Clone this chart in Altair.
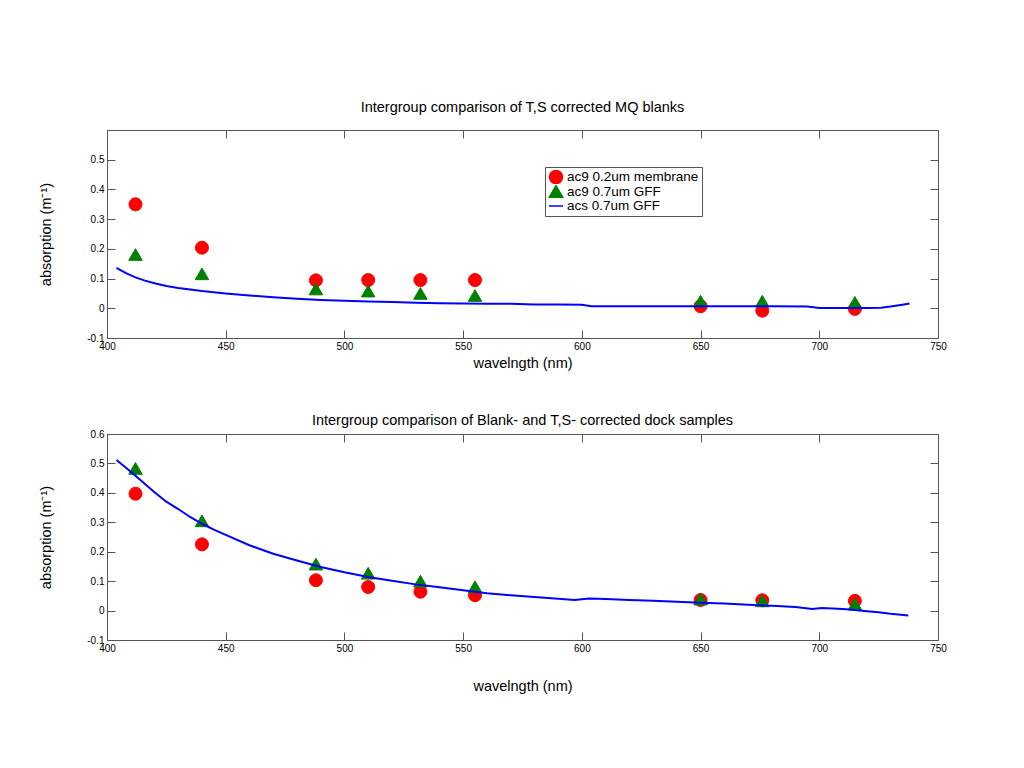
import altair as alt
import pandas as pd

FONT = "Liberation Sans"
AX = "#555555"

SERIES = ["ac9 0.2um membrane", "ac9 0.7um GFF", "acs 0.7um GFF"]

ac9_wl = [412, 440, 488, 510, 532, 555, 650, 676, 715]

# Top panel: T,S corrected MQ blanks
blank_membrane = [0.350, 0.204, 0.094, 0.095, 0.095, 0.095, 0.007, -0.008, -0.002]
blank_gff = [0.181, 0.116, 0.065, 0.058, 0.050, 0.043, 0.024, 0.024, 0.020]
acs_wl_top = [404, 408, 412, 416, 420, 425, 430, 435, 440, 445, 450, 460, 470, 480,
              490, 500, 510, 520, 530, 540, 550, 560, 570, 580, 590, 600, 604, 620,
              640, 660, 680, 695, 700, 710, 720, 726, 730, 735, 738]
acs_blank = [0.136, 0.118, 0.104, 0.093, 0.084, 0.075, 0.068, 0.063, 0.058, 0.054, 0.050,
             0.043, 0.037, 0.032, 0.028, 0.025, 0.023, 0.021, 0.019, 0.017, 0.016, 0.015,
             0.015, 0.013, 0.013, 0.012, 0.007, 0.007, 0.007, 0.007, 0.007, 0.006, 0.001,
             0.001, 0.001, 0.002, 0.006, 0.012, 0.016]

# Bottom panel: Blank- and T,S- corrected dock samples
dock_membrane = [0.397, 0.225, 0.103, 0.080, 0.064, 0.052, 0.036, 0.035, 0.033]
dock_gff = [0.483, 0.305, 0.158, 0.127, 0.100, 0.081, 0.039, 0.033, 0.022]
acs_wl_bot = [404, 408, 412, 416, 420, 425, 430, 435, 440, 445, 450, 460, 470, 480, 490,
              500, 510, 520, 530, 540, 550, 560, 570, 580, 590, 597, 603, 610, 620, 630,
              640, 650, 660, 670, 680, 690, 697, 701, 710, 715, 720, 725, 730, 737.5]
acs_dock = [0.512, 0.485, 0.458, 0.430, 0.402, 0.370, 0.345, 0.318, 0.295, 0.275, 0.257,
            0.222, 0.193, 0.170, 0.148, 0.130, 0.114, 0.101, 0.089, 0.079, 0.069, 0.059,
            0.052, 0.046, 0.040, 0.036, 0.041, 0.039, 0.036, 0.033, 0.030, 0.027, 0.024,
            0.020, 0.016, 0.012, 0.005, 0.009, 0.005, 0.002, -0.002, -0.006, -0.011, -0.017]

x_ticks = [400, 450, 500, 550, 600, 650, 700, 750]
y_ticks_top = [-0.1, 0, 0.1, 0.2, 0.3, 0.4, 0.5]
y_ticks_bot = [-0.1, 0, 0.1, 0.2, 0.3, 0.4, 0.5, 0.6]

W = 831


def make_panel(title, title_offset, mem, gff, acs_wl, acs_vals, yticks, height,
               xtitle_pad, ytitle_pad, show_legend):
    mem_df = pd.DataFrame({"wl": ac9_wl, "a": mem, "series": SERIES[0]})
    gff_df = pd.DataFrame({"wl": ac9_wl, "a": gff, "series": SERIES[1]})
    line_df = pd.DataFrame({"wl": acs_wl, "a": acs_vals})

    xs = alt.Scale(domain=[400, 750], nice=False, zero=False)
    ys = alt.Scale(domain=[-0.1, 0.6], nice=False, zero=False)

    lab = dict(grid=False, domain=False, ticks=False, labelFont=FONT, labelFontSize=10,
               labelColor="black", labelFlush=False, labelOverlap=False, labelBound=False,
               labelPadding=3, labelExpr="toString(datum.value)",
               titleFont=FONT, titleFontSize=14.5, titleFontWeight="normal", titleColor="black")
    tk = dict(grid=False, domain=False, ticks=True, labels=False, title=None,
              tickColor=AX, tickSize=8, tickWidth=1)

    x_main = alt.Axis(orient="bottom", values=x_ticks, title="wavelngth (nm)",
                      titlePadding=xtitle_pad, **lab)
    y_main = alt.Axis(orient="left", values=yticks, title="absorption (m\u207b\u00b9)",
                      titlePadding=ytitle_pad, **lab)
    x_in_bottom = alt.Axis(orient="top", offset=-height, values=x_ticks, **tk)
    x_in_top = alt.Axis(orient="bottom", offset=-height, values=x_ticks, **tk)
    y_in_left = alt.Axis(orient="right", offset=-W, values=yticks, **tk)
    y_in_right = alt.Axis(orient="left", offset=-W, values=yticks, **tk)

    if show_legend:
        leg = alt.Legend(title=None, orient="none", legendX=438, legendY=37,
                         fillColor="white", strokeColor=AX, padding=3,
                         labelFont=FONT, labelFontSize=13.5, labelColor="black",
                         labelOffset=3, clipHeight=14, rowPadding=0.5,
                         symbolStrokeWidth=1.5)
    else:
        leg = None

    col_sc = alt.Scale(domain=SERIES, range=["#ff0000", "#008000", "#0000ff"])
    shp_sc = alt.Scale(domain=SERIES, range=["circle", "triangle-up", "stroke"])
    siz_sc = alt.Scale(domain=SERIES, range=[169, 196, 784])

    def enc(xa, ya):
        return dict(
            x=alt.X("wl:Q", scale=xs, axis=xa),
            y=alt.Y("a:Q", scale=ys, axis=ya),
            color=alt.Color("series:N", scale=col_sc, legend=leg),
            stroke=alt.Stroke("series:N", scale=col_sc, legend=leg),
            shape=alt.Shape("series:N", scale=shp_sc, legend=leg),
            size=alt.Size("series:N", scale=siz_sc, legend=leg),
        )

    red = alt.Chart(mem_df).mark_point(filled=True, opacity=1, strokeWidth=1).encode(
        **enc(x_in_bottom, y_in_left))
    green = alt.Chart(gff_df).mark_point(filled=True, opacity=1, strokeWidth=1).encode(
        **enc(x_in_top, y_in_right))
    line = alt.Chart(line_df).mark_line(color="#0000ff", strokeWidth=2).encode(
        x=alt.X("wl:Q", scale=xs, axis=x_main),
        y=alt.Y("a:Q", scale=ys, axis=y_main),
    )

    return alt.layer(red, green, line).resolve_axis(
        x="independent", y="independent"
    ).properties(
        width=W, height=height,
        title=alt.TitleParams(title, font=FONT, fontSize=14.5, fontWeight="normal",
                              color="black", offset=title_offset, anchor="middle"),
    )


top = make_panel("Intergroup comparison of T,S corrected MQ blanks", 14,
                 blank_membrane, blank_gff, acs_wl_top, acs_blank, y_ticks_top, 208,
                 5, 33.5, True)
bottom = make_panel("Intergroup comparison of Blank- and T,S- corrected dock samples", 1,
                    dock_membrane, dock_gff, acs_wl_bot, acs_dock, y_ticks_bot, 206,
                    26, 33.5, False)

chart = alt.vconcat(top, bottom, spacing=42).resolve_scale(
    color="independent", stroke="independent", shape="independent", size="independent"
).resolve_legend(
    color="independent", stroke="independent", shape="independent", size="independent"
).configure(
    padding={"left": 29, "top": 91, "right": 5, "bottom": 5}, font=FONT
).configure_view(stroke=AX, strokeWidth=1)

chart.save("out.html", embed_options={"renderer": "svg", "actions": False})
